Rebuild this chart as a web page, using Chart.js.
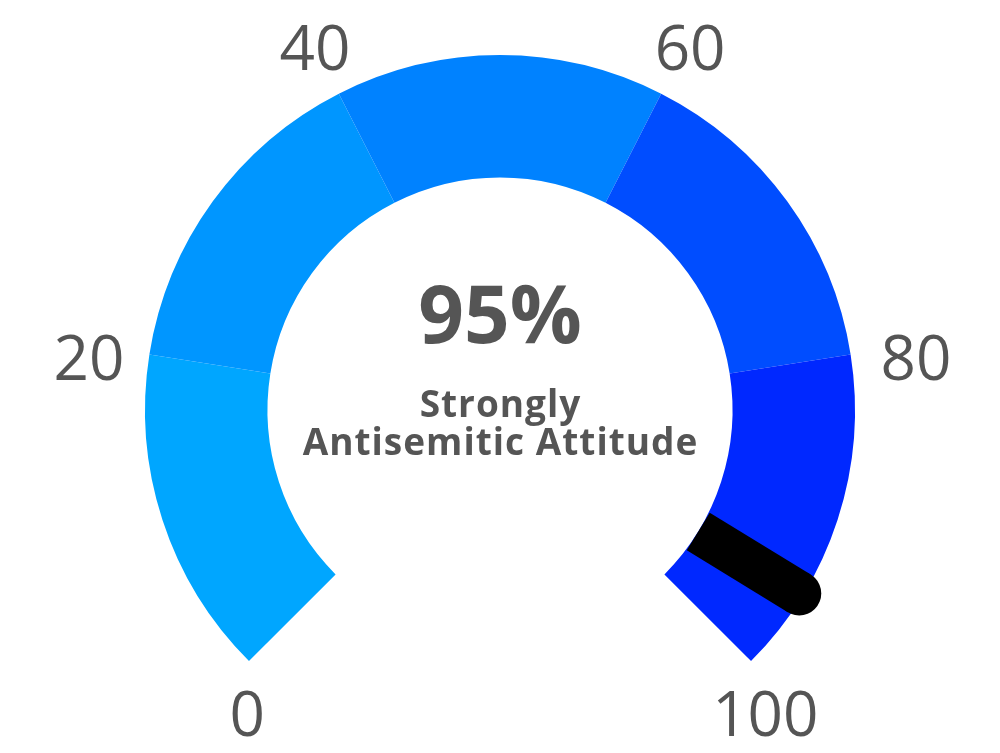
<!DOCTYPE html>
<html>
<head>
<meta charset="utf-8">
<script src="https://cdn.jsdelivr.net/npm/chart.js@4.4.0/dist/chart.umd.min.js"></script>
<style>
  body { margin: 0; background: #fff; }
  #wrap { width: 1000px; height: 753px; }
</style>
</head>
<body>
<div id="wrap"><canvas id="gauge-chart" width="1000" height="753"></canvas></div>
<script>
// gauge bands
const bandLabels = ["0-20", "20-40", "40-60", "60-80", "80-100"];
const bandSizes = [20, 20, 20, 20, 20];
const bandColors = ["#00a6ff", "#0096ff", "#0082ff", "#004dff", "#0028ff"];

// scale ticks and reading
const tickValues = [0, 20, 40, 60, 80, 100];
const needleValue = 95;
const valueText = "95%";
const captionLines = ["Strongly", "Antisemitic Attitude"];

const ROTATION = -135; // degrees, Chart.js convention (0 = top)
const SWEEP = 270;
const TEXT_COLOR = "#555555";

function valueToAngle(v) {
  // canvas radians, 0 = +x axis
  return (ROTATION - 90 + SWEEP * v / 100) * Math.PI / 180;
}

// labels sit a little further round than their ticks, more so near the ends
function labelAngle(v) {
  const t = (v - 50) / 50; // -1 .. 1
  const deg = 137.05 * t + 2.5 * t * t * t; // from top, clockwise
  return (deg - 90) * Math.PI / 180;
}

const gaugeDecor = {
  id: "gaugeDecor",
  afterDatasetsDraw(chart) {
    const arc = chart.getDatasetMeta(0).data[0];
    const { x, y, innerRadius, outerRadius } = arc.getProps(
      ["x", "y", "innerRadius", "outerRadius"], true
    );
    const ctx = chart.ctx;
    ctx.save();

    // needle
    const a = valueToAngle(needleValue);
    const dx = Math.cos(a);
    const dy = Math.sin(a);
    const w = 44;
    const end = outerRadius - 4;
    ctx.strokeStyle = "#000";
    ctx.fillStyle = "#000";
    ctx.lineWidth = w;
    ctx.lineCap = "butt";
    ctx.beginPath();
    ctx.moveTo(x + dx * innerRadius, y + dy * innerRadius);
    ctx.lineTo(x + dx * end, y + dy * end);
    ctx.stroke();
    ctx.beginPath();
    ctx.arc(x + dx * end, y + dy * end, w / 2, 0, Math.PI * 2);
    ctx.fill();

    // tick labels
    ctx.fillStyle = TEXT_COLOR;
    ctx.textAlign = "center";
    ctx.textBaseline = "alphabetic";
    ctx.font = '62px "Open Sans"';
    tickValues.forEach((v) => {
      const t = labelAngle(v);
      const c = Math.cos(t);
      const s = Math.sin(t);
      const r = outerRadius + 44 + 18 * Math.abs(c) - 15 * Math.max(0, s);
      const nudge = 2.5 + 5 * Math.max(0, s);
      ctx.fillText(String(v), x + c * r + nudge, y + s * r + 22);
    });

    // centre text
    ctx.font = 'bold 80px "Open Sans"';
    ctx.fillText(valueText, x, y - 67);
    ctx.font = 'bold 37px "Open Sans"';
    ctx.letterSpacing = "1px";
    captionLines.forEach((line, i) => {
      ctx.fillText(line, x + 0.5, y + 7 + i * 38);
    });

    ctx.restore();
  },
};

const ctx = document.getElementById("gauge-chart").getContext("2d");
new Chart(ctx, {
  type: "doughnut",
  data: {
    labels: bandLabels,
    datasets: [
      {
        data: bandSizes,
        backgroundColor: bandColors,
        borderWidth: 0,
      },
    ],
  },
  options: {
    responsive: false,
    animation: false,
    rotation: ROTATION,
    circumference: SWEEP,
    cutout: "65.5%",
    layout: {
      padding: { top: 55, bottom: 92, left: 140, right: 140 },
    },
    plugins: {
      legend: { display: false },
      tooltip: { enabled: false },
    },
  },
  plugins: [gaugeDecor],
});
</script>
</body>
</html>
